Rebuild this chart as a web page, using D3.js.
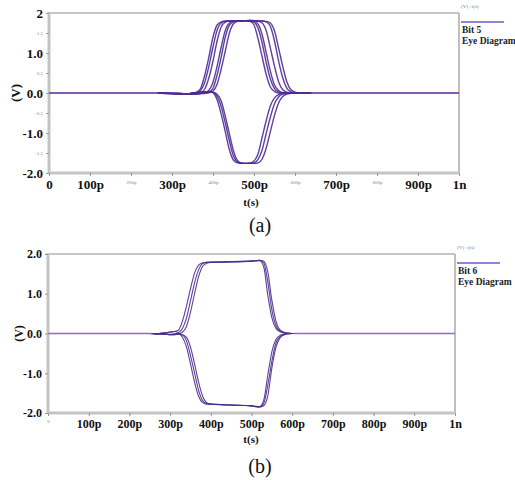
<!DOCTYPE html>
<html>
<head>
<meta charset="utf-8">
<script src="https://cdn.jsdelivr.net/npm/d3@7"></script>
<style>
body { margin: 0; background: #fff; }
</style>
</head>
<body>
<div id="chart"></div>
<script>
// tijd in ps, spanning in V
const serif = "'Liberation Serif', 'Times New Roman', serif"
const xTicks = [0, 100, 200, 300, 400, 500, 600, 700, 800, 900, 1000]
const xLabels = ["0", "100p", "200p", "300p", "400p", "500p", "600p", "700p", "800p", "900p", "1n"]

// (a) Bit 5
const yTicksA = [2, 1.5, 1, 0.5, 0, -0.5, -1, -1.5, -2]
const yLabelsA = ["2", "1.5", "1.0", "0.5", "0.0", "-0.5", "-1.0", "-1.5", "-2.0"]
const bigXA = ["0", "100p", "300p", "500p", "700p", "900p", "1n"]
const bigYA = ["2", "1.0", "0.0", "-1.0", "-2.0"]

const tA = [0, 260, 300, 340, 350, 360, 370, 380, 390, 400, 410, 420, 430, 440, 450, 460, 470, 480, 490, 500,
  510, 520, 530, 540, 550, 560, 570, 580, 590, 600, 610, 620, 650, 1000]
const a1 = [0,0,-0.01,-0.03,0,0.02,0.12,0.45,0.9,1.4,1.7,1.78,1.8,1.8,1.8,1.8,1.8,1.8,1.79,1.7,1.35,0.9,0.45,0.15,0.04,0,0,0,0,0,0,0,0,0]
const a2 = [0,0,-0.02,-0.02,0,0.01,0.07,0.27,0.67,1.15,1.57,1.75,1.79,1.8,1.8,1.8,1.8,1.81,1.8,1.77,1.62,1.25,0.75,0.35,0.11,0.03,0,0,0,0,0,0,0,0]
const a3 = [0,0,-0.02,-0.03,-0.01,0,0.015,0.1,0.38,0.8,1.3,1.65,1.77,1.8,1.8,1.8,1.81,1.81,1.8,1.79,1.72,1.45,1.0,0.54,0.2,0.06,0.01,0,0,0,0,0,0,0]
const a4 = [0,0,-0.01,-0.03,-0.02,-0.01,0,0.01,0.07,0.27,0.67,1.15,1.57,1.75,1.79,1.8,1.8,1.81,1.81,1.8,1.79,1.75,1.55,1.12,0.67,0.28,0.08,0.02,0,0,0,0,0,0]
const a5 = [0,0,-0.01,-0.02,-0.03,-0.02,-0.01,0,0.02,0.12,0.45,0.9,1.4,1.7,1.78,1.8,1.81,1.81,1.82,1.81,1.8,1.8,1.78,1.66,1.3,0.8,0.38,0.12,0.03,0,0,0,0,0]
const a6 = [0,0,-0.01,-0.02,-0.03,-0.03,-0.02,-0.01,0.005,0.05,0.22,0.6,1.05,1.5,1.73,1.79,1.8,1.81,1.81,1.81,1.81,1.8,1.79,1.75,1.55,1.12,0.67,0.28,0.08,0.02,0,0,0,0]
const b1 = [0,0,-0.01,-0.02,0,0.01,0.02,0.03,0.04,0.01,-0.17,-0.53,-0.97,-1.42,-1.68,-1.745,-1.76,-1.76,-1.75,-1.7,-1.52,-1.1,-0.68,-0.32,-0.12,-0.04,-0.01,0,0,0,0,0,0,0]
const b2 = [0,0,-0.01,-0.02,0,0.01,0.02,0.03,0.03,0.01,-0.08,-0.34,-0.75,-1.2,-1.58,-1.72,-1.755,-1.76,-1.76,-1.75,-1.66,-1.42,-1.0,-0.6,-0.27,-0.1,-0.03,-0.01,0,0,0,0,0,0]
const b3 = [0,0,-0.01,-0.02,-0.01,0,0.01,0.02,0.03,0.02,-0.03,-0.2,-0.58,-1.02,-1.45,-1.69,-1.75,-1.76,-1.76,-1.76,-1.745,-1.65,-1.37,-0.96,-0.56,-0.25,-0.09,-0.03,-0.01,0,0,0,0,0]
// rustige stukken op 0 V (lichter getekend)
const flatA = [[0, 265], [640, 1000]]

// (b) Bit 6
const yTicksB = [2, 1, 0, -1, -2]
const yLabelsB = ["2.0", "1.0", "0.0", "-1.0", "-2.0"]
const bigXB = ["100p", "200p", "300p", "400p", "500p", "600p", "700p", "800p", "900p", "1n"]
const bigYB = yLabelsB

const tB = [0, 250, 270, 280, 290, 300, 310, 320, 330, 340, 350, 360, 370, 380, 390, 400, 450, 500,
  510, 520, 530, 540, 550, 560, 570, 580, 590, 600, 620, 1000]
const c1 = [0,0,0,0.01,0.02,0.03,0.05,0.08,0.3,0.68,1.12,1.52,1.72,1.78,1.79,1.79,1.8,1.82,1.83,1.83,1.68,0.97,0.4,0.13,0.05,0.02,0.01,0,0,0]
const c2 = [0,0,-0.01,-0.01,-0.02,-0.03,-0.02,0.02,0.12,0.38,0.82,1.27,1.6,1.76,1.79,1.8,1.8,1.82,1.83,1.84,1.78,1.3,0.6,0.2,0.06,0.015,0,0,0,0]
const c3 = [0,0,-0.01,-0.01,-0.02,-0.03,-0.03,-0.01,0.03,0.17,0.53,1.0,1.43,1.69,1.77,1.79,1.81,1.82,1.83,1.84,1.82,1.55,0.84,0.32,0.09,0.03,0.01,0,0,0]
const d1 = [0,0,0,0.01,0.02,0.04,0.05,0.02,-0.09,-0.33,-0.76,-1.22,-1.58,-1.74,-1.78,-1.78,-1.8,-1.82,-1.83,-1.84,-1.68,-1.05,-0.46,-0.15,-0.05,-0.015,0,0,0,0]
const d2 = [0,0,-0.01,-0.01,-0.02,-0.02,-0.01,-0.005,-0.03,-0.18,-0.55,-0.99,-1.43,-1.69,-1.765,-1.78,-1.8,-1.82,-1.84,-1.85,-1.76,-1.3,-0.7,-0.24,-0.08,-0.025,-0.005,0,0,0]
const d3v = [0,0,-0.01,-0.01,-0.01,-0.03,-0.03,-0.02,-0.03,-0.09,-0.34,-0.76,-1.22,-1.58,-1.74,-1.77,-1.8,-1.82,-1.84,-1.85,-1.82,-1.57,-0.87,-0.35,-0.11,-0.035,-0.01,0,0,0]
const flatB = [[0, 255], [605, 1000]]

const svg = d3.select("#chart")
  .append("svg")
  .attr("width", 515)
  .attr("height", 480)
  .attr("font-family", serif)

function styleTicks(ax, big, fs) {
  ax.select(".domain").remove()
  ax.selectAll(".tick line").attr("stroke", "#999")
  ax.selectAll(".tick text").each(function() {
    const t = d3.select(this)
    const isBig = big.includes(t.text())
    t.attr("font-family", serif)
      .attr("font-size", isBig ? fs : 5)
      .attr("font-weight", isBig ? "bold" : "normal")
      .attr("fill", isBig ? "#111" : "#888")
  })
}

function drawPanel(p) {
  const x = d3.scaleLinear().domain([0, 1000]).range([p.left, p.right])
  const y = d3.scaleLinear().domain([-2, 2]).range([p.bottom, p.top])
  const g = svg.append("g")

  // kader
  g.append("line").attr("x1", p.left).attr("x2", p.right).attr("y1", p.top).attr("y2", p.top)
    .attr("stroke", "#c6c6c6").attr("stroke-width", 2)
  g.append("line").attr("x1", p.right).attr("x2", p.right).attr("y1", p.top).attr("y2", p.bottom)
    .attr("stroke", "#aaa").attr("stroke-width", 1.5)
  g.append("line").attr("x1", p.left).attr("x2", p.left).attr("y1", p.top - 1).attr("y2", p.bottom + 1)
    .attr("stroke", "#c4c4c4").attr("stroke-width", 3)
  g.append("line").attr("x1", p.left).attr("x2", p.right + 1).attr("y1", p.bottom).attr("y2", p.bottom)
    .attr("stroke", "#c4c4c4").attr("stroke-width", 3)

  const xAxis = g.append("g")
    .attr("transform", `translate(0, ${p.bottom})`)
    .call(d3.axisBottom(x).tickValues(xTicks).tickFormat((d, i) => xLabels[i]).tickSize(3).tickPadding(p.xPad))
  const yAxis = g.append("g")
    .attr("transform", `translate(${p.left}, 0)`)
    .call(d3.axisLeft(y).tickValues(p.yTicks).tickFormat((d, i) => p.yLabels[i]).tickSize(3).tickPadding(3))

  styleTicks(xAxis, p.bigX, p.fs)
  styleTicks(yAxis, p.bigY, p.fs)

  // curves
  const line = d3.line()
    .x(d => x(d[0]))
    .y(d => y(d[1]))
    .curve(d3.curveMonotoneX)

  g.selectAll("path.trace")
    .data(p.traces)
    .join("path")
    .attr("class", "trace")
    .attr("d", v => line(d3.zip(p.t, v)))
    .attr("fill", "none")
    .attr("stroke", p.color)
    .attr("stroke-width", p.sw)
    .attr("stroke-opacity", 0.9)

  g.selectAll("line.flat")
    .data(p.flat)
    .join("line")
    .attr("class", "flat")
    .attr("x1", d => x(d[0]))
    .attr("x2", d => x(d[1]))
    .attr("y1", y(0))
    .attr("y2", y(0))
    .attr("stroke", "#8a70c4")
    .attr("stroke-width", 1.6)

  // labels
  g.append("text")
    .attr("transform", `translate(${p.yLabX}, ${y(0)}) rotate(-90)`)
    .attr("text-anchor", "middle")
    .attr("dy", "0.35em")
    .attr("font-size", p.fs)
    .attr("font-weight", "bold")
    .attr("fill", "#111")
    .text("(V)")

  g.append("text")
    .attr("x", 251)
    .attr("y", p.xLabY)
    .attr("text-anchor", "middle")
    .attr("font-size", 11)
    .attr("font-weight", "bold")
    .attr("fill", "#111")
    .text("t(s)")

  g.append("text")
    .attr("x", 260)
    .attr("y", p.capY)
    .attr("text-anchor", "middle")
    .attr("font-size", 20)
    .attr("fill", "#111")
    .text(p.caption)

  // legenda
  g.append("text")
    .attr("x", p.legX)
    .attr("y", p.legY)
    .attr("font-size", 5)
    .attr("fill", "#777")
    .text("(V) : t(s)")
  g.append("line")
    .attr("x1", p.legX).attr("x2", p.legX + 43)
    .attr("y1", p.legY + 14).attr("y2", p.legY + 14)
    .attr("stroke", "#9a80d2").attr("stroke-width", 2)
  g.append("text")
    .attr("x", p.legX + 1)
    .attr("y", p.legY + 25)
    .attr("font-size", 9.5)
    .attr("font-weight", "bold")
    .attr("fill", "#222")
    .text(p.name)
  g.append("text")
    .attr("x", p.legX + 1)
    .attr("y", p.legY + 36)
    .attr("font-size", 9.5)
    .attr("font-weight", "bold")
    .attr("fill", "#222")
    .text("Eye Diagram")
}

drawPanel({
  left: 49, right: 459, top: 13, bottom: 173,
  yTicks: yTicksA, yLabels: yLabelsA, bigX: bigXA, bigY: bigYA,
  fs: 13, xPad: 4, yLabX: 15, xLabY: 206, capY: 232, caption: "(a)",
  legX: 461, legY: 8, name: "Bit 5",
  t: tA, traces: [a1, a2, a3, a4, a5, a6, b1, b2, b3], flat: flatA,
  color: "#4f2b93", sw: 1.4
})

drawPanel({
  left: 48, right: 455, top: 254, bottom: 413,
  yTicks: yTicksB, yLabels: yLabelsB, bigX: bigXB, bigY: bigYB,
  fs: 12, xPad: 3, yLabX: 19, xLabY: 443, capY: 473, caption: "(b)",
  legX: 457, legY: 249, name: "Bit 6",
  t: tB, traces: [c1, c2, c3, d1, d2, d3v], flat: flatB,
  color: "#4a2d8c", sw: 1.1
})
</script>
</body>
</html>
